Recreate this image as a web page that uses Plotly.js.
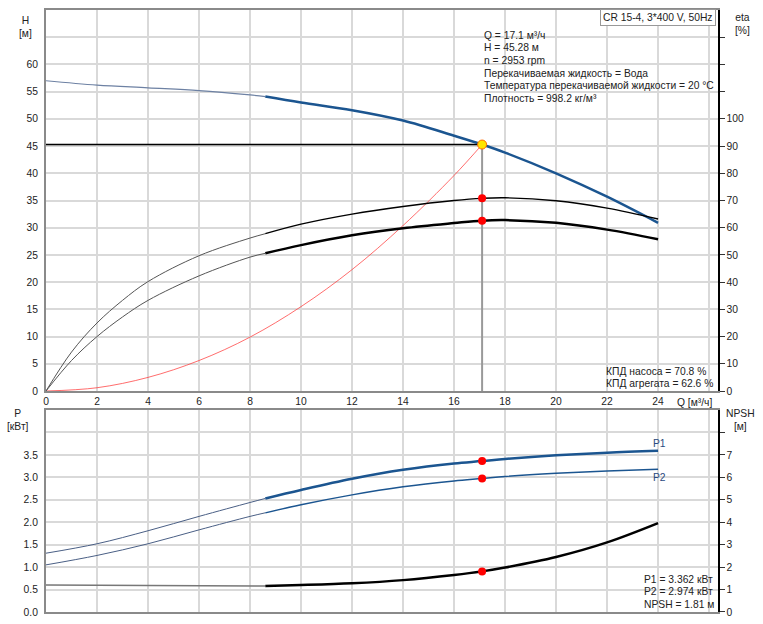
<!DOCTYPE html>
<html><head><meta charset="utf-8">
<script src="https://cdn.plot.ly/plotly-3.0.1.min.js"></script>
<style>html,body{margin:0;padding:0;background:#fff}#c{width:763px;height:624px}</style>
</head><body><div id="c"></div>
<script>
// ---- data ----
const qHThin = [0, 2, 4, 6, 8, 8.6];
const hThin = [57.0, 56.2, 55.7, 55.2, 54.4, 54.1];
const qHThick = [8.6, 10, 12, 14, 16, 17.1, 18, 20, 22, 24];
const hThick = [54.1, 53.0, 51.6, 49.7, 46.9, 45.28, 43.8, 40.0, 35.7, 30.9];

const qEtaThin = [0, 1, 2, 3, 4, 6, 8, 8.6];
const etaPumpThin = [0, 14.3, 25.0, 33.3, 40.2, 49.7, 56.2, 57.8];
const etaAggThin = [0, 11.2, 20.0, 27.2, 33.3, 42.3, 49.2, 50.6];
const qEtaThick = [8.6, 10, 12, 14, 16, 17.1, 18, 20, 22, 24];
const etaPumpThick = [57.8, 61.3, 65.0, 67.8, 70.0, 70.8, 71.0, 69.9, 67.2, 63.2];
const etaAggThick = [50.6, 53.6, 57.2, 59.8, 61.7, 62.6, 62.8, 61.8, 59.3, 55.8];

const qSys = [0, 2, 4, 6, 8, 10, 12, 14, 16, 17.1];
const hSys = [0, 0.6, 2.5, 5.6, 9.9, 15.5, 22.3, 30.4, 39.6, 45.28];

const qPThin = [0, 2, 4, 6, 8, 8.6];
const p1Thin = [1.31, 1.52, 1.81, 2.13, 2.44, 2.53];
const p2Thin = [1.05, 1.26, 1.52, 1.83, 2.13, 2.21];
const qPThick = [8.6, 10, 12, 14, 16, 17.1, 18, 20, 22, 24];
const p1Thick = [2.53, 2.72, 2.97, 3.17, 3.31, 3.362, 3.41, 3.49, 3.55, 3.59];
const p2Thick = [2.21, 2.39, 2.61, 2.79, 2.92, 2.974, 3.02, 3.09, 3.14, 3.18];

const qNpshThin = [0, 4, 8.6];
const npshThin = [1.2, 1.18, 1.16];
const qNpshThick = [8.6, 10, 12, 14, 16, 17.1, 18, 20, 22, 24];
const npshThick = [1.16, 1.2, 1.28, 1.42, 1.65, 1.81, 1.98, 2.45, 3.1, 3.96];

const dutyQ = 17.1, dutyH = 45.28, dutyEtaPump = 70.8, dutyEtaAgg = 62.6;
const dutyP1 = 3.362, dutyP2 = 2.974, dutyNpsh = 1.81;

const xTicks = [0,2,4,6,8,10,12,14,16,18,20,22,24,26];
const xTickText = ['0','2','4','6','8','10','12','14','16','18','20','22','24',''];
const hTicks = [0,5,10,15,20,25,30,35,40,45,50,55,60,65,70];
const hTickText = ['0','5','10','15','20','25','30','35','40','45','50','55','60','',''];
const etaTicks = [0,10,20,30,40,50,60,70,80,90,100,110,120,130];
const etaTickText = ['0','10','20','30','40','50','60','70','80','90','100','','',''];
const pTicks = [0,0.5,1,1.5,2,2.5,3,3.5,4];
const pTickText = ['0.0','0.5','1.0','1.5','2.0','2.5','3.0','3.5',''];
const npshTicks = [0,1,2,3,4,5,6,7,8];
const npshTickText = ['0','1','2','3','4','5','6','7',''];

const infoLines = ['Q = 17.1 м³/ч','H = 45.28 м','n = 2953 rpm','Перекачиваемая жидкость = Вода','Температура перекачиваемой жидкости = 20 °C','Плотность = 998.2 кг/м³'];
const effLines = ['КПД насоса = 70.8 %','КПД агрегата = 62.6 %'];
const powLines = ['P1 = 3.362 кВт','P2 = 2.974 кВт','NPSH = 1.81 м'];
const titleBox = 'CR 15-4, 3*400 V, 50Hz';

// ---- traces ----
const BLUE = '#1b5590';
const ln = (x, y, xa, ya, color, width, shape) => ({x, y, xaxis: xa, yaxis: ya, type: 'scatter', mode: 'lines', line: {color, width, shape: shape || 'spline', smoothing: 1}, hoverinfo: 'skip', showlegend: false});
const traces = [
  ln(qSys, hSys, 'x', 'y', 'rgba(255,60,60,0.75)', 1),
  ln([0, dutyQ], [dutyH, dutyH], 'x', 'y', '#000', 1.5, 'linear'),
  ln([dutyQ, dutyQ], [0, dutyH], 'x', 'y', '#999', 2, 'linear'),
  ln(qEtaThin, etaPumpThin, 'x', 'y2', '#555', 1),
  ln(qEtaThick, etaPumpThick, 'x', 'y2', '#000', 1.4),
  ln(qEtaThin, etaAggThin, 'x', 'y2', '#555', 1),
  ln(qEtaThick, etaAggThick, 'x', 'y2', '#000', 2.5),
  ln(qHThin, hThin, 'x', 'y', '#6d81a3', 1.2),
  ln(qHThick, hThick, 'x', 'y', BLUE, 2.5),
  {x:[dutyQ, dutyQ], y:[dutyEtaPump, dutyEtaAgg], xaxis:'x', yaxis:'y2', type:'scatter', mode:'markers', marker:{color:'#ff0000', size:8}, hoverinfo:'skip', showlegend:false},
  {x:[dutyQ], y:[dutyH], xaxis:'x', yaxis:'y', type:'scatter', mode:'markers', marker:{color:'#ffe600', size:9, line:{color:'#ff6a00', width:1}}, hoverinfo:'skip', showlegend:false},
  ln(qPThin, p1Thin, 'x2', 'y3', '#4a5f85', 1),
  ln(qPThick, p1Thick, 'x2', 'y3', BLUE, 2.5),
  ln(qPThin, p2Thin, 'x2', 'y3', '#4a5f85', 1),
  ln(qPThick, p2Thick, 'x2', 'y3', BLUE, 1.4),
  ln(qNpshThin, npshThin, 'x2', 'y4', '#777', 1.6),
  ln(qNpshThick, npshThick, 'x2', 'y4', '#000', 2.5),
  {x:[dutyQ, dutyQ], y:[dutyP1, dutyP2], xaxis:'x2', yaxis:'y3', type:'scatter', mode:'markers', marker:{color:'#ff0000', size:8}, hoverinfo:'skip', showlegend:false},
  {x:[dutyQ], y:[dutyNpsh], xaxis:'x2', yaxis:'y4', type:'scatter', mode:'markers', marker:{color:'#ff0000', size:8}, hoverinfo:'skip', showlegend:false}
];

const FONT = 'Liberation Sans, Arial, sans-serif';
const FS = 10.3;
const GRID = '#d9d9d9';
const AX = '#8a8a8a';
const tf = {family: FONT, size: FS, color: '#222'};
const xBase = {range:[0,26.35], tickmode:'array', tickvals:xTicks, ticktext:xTickText, showgrid:true, gridcolor:GRID, gridwidth:2, zeroline:false, showline:true, linecolor:AX, linewidth:2, mirror:true, ticks:'', tickfont:tf, fixedrange:true};
const yLeft = (range, tv, tt, dom, anchor) => ({domain:dom, anchor, range, tickmode:'array', tickvals:tv, ticktext:tt, showgrid:true, gridcolor:GRID, gridwidth:2, zeroline:false, showline:true, linecolor:AX, linewidth:2, mirror:true, ticks:'outside', ticklen:4, tickcolor:'rgba(0,0,0,0)', tickfont:tf, fixedrange:true});
const yRight = (range, tv, tt, over, anchor) => ({overlaying:over, anchor, side:'right', range, tickmode:'array', tickvals:tv, ticktext:tt, showgrid:false, zeroline:false, showline:true, linecolor:'#000', linewidth:1.5, ticks:'outside', ticklen:5, tickcolor:'#333', tickfont:tf, fixedrange:true});

const topDom = [0.3671, 1], botDom = [0, 0.3355];
// pixel helpers for paper coords
const PX = (px) => (px - 46) / 672;
const PY = (py) => (612 - py) / 602;
const ann = (px, py, text, xanchor, yanchor, extra) => Object.assign({xref:'paper', yref:'paper', x:PX(px), y:PY(py), text, showarrow:false, xanchor, yanchor, font:{family:FONT, size:FS, color:'#222'}}, extra || {});

const annotations = [
  ann(25, 13, 'H<br>[м]', 'center', 'top', {align:'center'}),
  ann(742, 10, 'eta<br>[%]', 'center', 'top', {align:'center'}),
  ann(18, 406, 'P<br>[кВт]', 'center', 'top', {align:'center'}),
  ann(740, 406, 'NPSH<br>[м]', 'center', 'top', {align:'center'}),
  ann(714, 402, 'Q [м³/ч]', 'right', 'middle'),
  ann(716, 17, titleBox, 'right', 'middle', {bordercolor:'#999', borderwidth:1, borderpad:2, bgcolor:'#fff'}),
  ann(651, 444, 'P1', 'left', 'middle', {font:{family:FONT, size:FS, color:'#2a4a80'}}),
  ann(651, 477, 'P2', 'left', 'middle', {font:{family:FONT, size:FS, color:'#2a4a80'}})
];
infoLines.forEach((t, i) => annotations.push(ann(481.5, 35 + i * 12.7, t, 'left', 'middle')));
effLines.forEach((t, i) => annotations.push(ann(604, 371.7 + i * 11.7, t, 'left', 'middle')));
powLines.forEach((t, i) => annotations.push(ann(641.5, 579.5 + i * 12.4, t, 'left', 'middle')));

const rect = (x0, y0, x1, y1) => ({type:'rect', xref:'paper', yref:'paper', x0:PX(x0), x1:PX(x1), y0:PY(y1), y1:PY(y0), fillcolor:'#fff', line:{width:0}, layer:'between'});
const shapes = [rect(478, 27, 717, 106), rect(600, 364, 717, 390), rect(638, 572, 717, 611)];

const layout = {
  width:763, height:624, margin:{l:46, r:45, t:10, b:12, autoexpand:false},
  paper_bgcolor:'#fff', plot_bgcolor:'#fff', showlegend:false,
  font:{family:FONT, size:FS, color:'#222'},
  xaxis: Object.assign({}, xBase, {anchor:'y', domain:[0,1]}),
  yaxis: yLeft([0,70], hTicks, hTickText, topDom, 'x'),
  yaxis2: yRight([0,140], etaTicks, etaTickText, 'y', 'x'),
  xaxis2: Object.assign({}, xBase, {anchor:'y3', domain:[0,1], showticklabels:false}),
  yaxis3: yLeft([0,4.5], pTicks, pTickText, botDom, 'x2'),
  yaxis4: yRight([0,9], npshTicks, npshTickText, 'y3', 'x2'),
  annotations, shapes
};
Plotly.newPlot('c', traces, layout, {staticPlot:true, displayModeBar:false});
</script></body></html>
